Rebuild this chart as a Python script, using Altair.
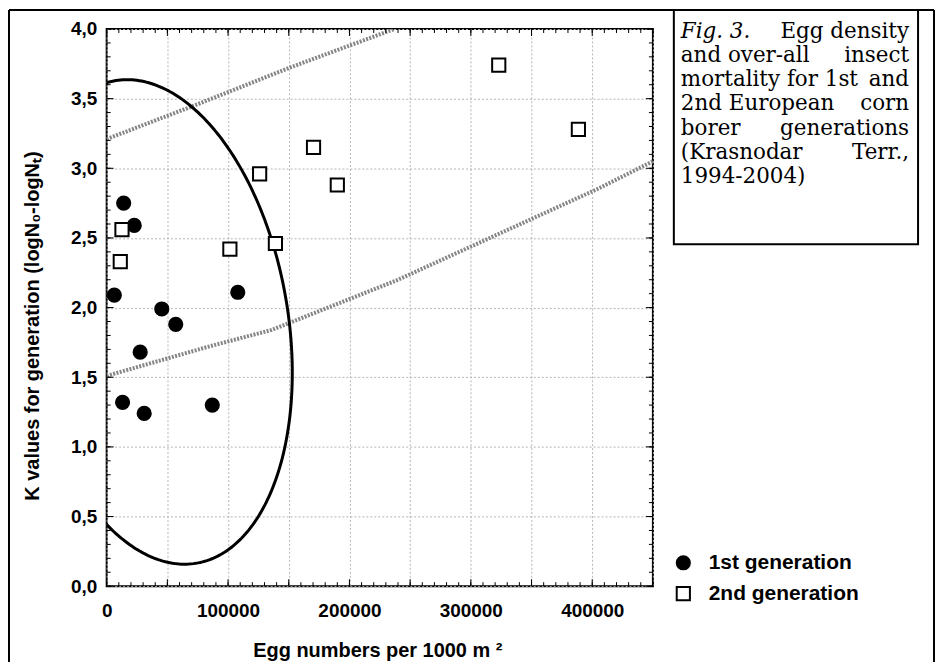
import altair as alt
import numpy as np
import pandas as pd

# ---------------- data ----------------
SERIES = ["1st generation", "2nd generation"]
GEN1_EGGS = [14000, 22700, 6300, 45400, 56900, 27600, 13100, 30900, 87000, 108000]
GEN1_K = [2.75, 2.59, 2.09, 1.99, 1.88, 1.68, 1.32, 1.24, 1.30, 2.11]
GEN2_EGGS = [12600, 11200, 101500, 126000, 139000, 170400, 190000, 323000, 388600]
GEN2_K = [2.56, 2.33, 2.42, 2.96, 2.46, 3.15, 2.88, 3.74, 3.28]

UPPER_X = [0, 75000, 150000, 237000]
UPPER_Y = [3.21, 3.46, 3.72, 4.0]
LOWER_X = [0, 84000, 136000, 240000, 404000, 450000]
LOWER_Y = [1.51, 1.72, 1.84, 2.20, 2.85, 3.05]

# ellipse drawn over the 1st generation cloud
ELL_CX, ELL_CY = 40500, 1.897
ELL_RX, ELL_RY = 112400, 1.739
ELL_TILT = 0.21

X_MAX, Y_MAX = 450000, 4.0
X_GRID = [0, 50000, 100000, 150000, 200000, 250000, 300000, 350000, 400000, 450000]
X_MINOR = list(range(0, 450001, 10000))
Y_GRID = [0.0, 0.5, 1.0, 1.5, 2.0, 2.5, 3.0, 3.5, 4.0]
Y_MINOR = [round(i / 10, 1) for i in range(41)]

X_TITLE = "Egg numbers per 1000 m \u00b2"
Y_TITLE = "K values for generation (logN\u2080-logN\u209c)"
CAPTION = [
    ("Fig. 3.", "Egg density"),
    ("and over-all", "insect"),
    ("mortality for 1st", "and"),
    ("2nd European", "corn"),
    ("borer", "generations"),
    ("(Krasnodar", "Terr.,"),
    ("1994-2004)", ""),
]

# ---------------- layout ----------------
W, H = 548, 559
PAD = {"left": 99, "top": 20, "right": 283, "bottom": 76}
FONT = "Liberation Sans"
SERIF = "DejaVu Serif"
CAP_SIZE = 21.5

XS = alt.Scale(domain=[0, X_MAX], nice=False, zero=False)
YS = alt.Scale(domain=[0, Y_MAX], nice=False, zero=False)
XAX = alt.Axis(values=X_GRID, grid=True, gridColor="#b5b5b5", gridDash=[2, 2], gridWidth=1,
               ticks=False, domain=False, title=None, labelFlush=False, labelOverlap=False,
               labelExpr="datum.value % 100000 == 0 ? format(datum.value, 'd') : ''",
               labelFont=FONT, labelFontWeight="bold", labelFontSize=19, labelColor="black",
               labelPadding=15)
YAX = alt.Axis(values=Y_GRID, grid=True, gridColor="#b5b5b5", gridDash=[2, 2], gridWidth=1,
               ticks=False, domain=False, title=None, labelFlush=False, labelOverlap=False,
               labelExpr="replace(format(datum.value, '.1f'), '.', ',')",
               labelFont=FONT, labelFontWeight="bold", labelFontSize=19, labelColor="black",
               labelPadding=10)


def X(f="eggs"):
    return alt.X(f"{f}:Q", scale=XS, axis=XAX)


def Y(f="k"):
    return alt.Y(f"{f}:Q", scale=YS, axis=YAX)


pts = pd.DataFrame({
    "eggs": GEN1_EGGS + GEN2_EGGS,
    "k": GEN1_K + GEN2_K,
    "gen": [SERIES[0]] * len(GEN1_EGGS) + [SERIES[1]] * len(GEN2_EGGS),
})
leg = alt.Legend(title=None, orient="none", legendX=568, legendY=525, padding=0,
                 labelFont=FONT, labelFontWeight="bold", labelFontSize=21, labelColor="black",
                 labelOffset=15, rowPadding=8, symbolSize=175, symbolStrokeWidth=2)
points = alt.Chart(pts).mark_point(filled=True, size=175, strokeWidth=2, opacity=1).encode(
    x=X(), y=Y(),
    fill=alt.Fill("gen:N", scale=alt.Scale(domain=SERIES, range=["black", "white"]), legend=leg),
    shape=alt.Shape("gen:N", scale=alt.Scale(domain=SERIES, range=["circle", "square"]), legend=leg),
    stroke=alt.Stroke("gen:N", scale=alt.Scale(domain=SERIES, range=["black", "black"]), legend=leg),
)

# ellipse
t = np.linspace(0, 2 * np.pi, 361)
phi = np.arccos(ELL_TILT)
ell = pd.DataFrame({"eggs": ELL_CX + ELL_RX * np.cos(t),
                    "k": ELL_CY - ELL_RY * np.cos(t + phi),
                    "i": np.arange(len(t))})
ellipse = alt.Chart(ell).mark_line(clip=True, color="black", strokeWidth=3).encode(
    x=X(), y=Y(), order="i:Q")

bands = pd.DataFrame({
    "eggs": UPPER_X + LOWER_X,
    "k": UPPER_Y + LOWER_Y,
    "band": ["upper"] * len(UPPER_X) + ["lower"] * len(LOWER_X),
})
band_lines = alt.Chart(bands).mark_line(clip=True, color="#858585", strokeWidth=4,
                                        strokeDash=[2, 1.4]).encode(
    x=X(), y=Y(), detail="band:N")


# inward ticks on all four sides
def xticks(vals, length):
    df = pd.DataFrame({"eggs": vals})
    b = alt.Chart(df).mark_rule(color="black", strokeWidth=1).encode(
        x=X(), y=alt.value(H), y2=alt.value(H - length))
    t_ = alt.Chart(df).mark_rule(color="black", strokeWidth=1).encode(
        x=X(), y=alt.value(0), y2=alt.value(length))
    return [b, t_]


def yticks(vals, length):
    df = pd.DataFrame({"k": vals})
    l = alt.Chart(df).mark_rule(color="black", strokeWidth=1).encode(
        y=Y(), x=alt.value(0), x2=alt.value(length))
    r = alt.Chart(df).mark_rule(color="black", strokeWidth=1).encode(
        y=Y(), x=alt.value(W), x2=alt.value(W - length))
    return [l, r]


ticks = xticks(X_MINOR, 4) + xticks(X_GRID, 7) + yticks(Y_MINOR, 4) + yticks(Y_GRID, 7)

one = pd.DataFrame({"a": [0]})


def text(s, x, y, **kw):
    return alt.Chart(pd.DataFrame({"t": [s]})).mark_text(**kw).encode(
        text="t:N", x=alt.value(x), y=alt.value(y))


titles = [
    text(X_TITLE, W / 2 - 2, H + 71, font=FONT, fontWeight="bold", fontSize=20,
         color="black", align="center", baseline="alphabetic"),
    text(Y_TITLE, -74, 298, font=FONT, fontWeight="bold", fontSize=20, angle=270,
         color="black", align="center", baseline="middle"),
]

cap = []
for i, (left, right) in enumerate(CAPTION):
    yb = 8.7 + 24.3 * i
    style = {"fontStyle": "italic"} if i == 0 else {}
    cap.append(text(left, 576, yb, font=SERIF, fontSize=CAP_SIZE, color="black",
                    align="left", baseline="alphabetic", **style))
    if right:
        cap.append(text(right, 805, yb, font=SERIF, fontSize=CAP_SIZE, color="black",
                        align="right", baseline="alphabetic"))

frame_bottom = H + PAD["bottom"]
frames = [
    alt.Chart(one).mark_rect(fillOpacity=0, stroke="black", strokeWidth=2).encode(
        x=alt.value(569), x2=alt.value(814), y=alt.value(-19), y2=alt.value(216)),
    alt.Chart(one).mark_rule(color="black", strokeWidth=2).encode(
        x=alt.value(-98), y=alt.value(-19), y2=alt.value(frame_bottom)),
    alt.Chart(one).mark_rule(color="black", strokeWidth=2).encode(
        x=alt.value(830), y=alt.value(-19), y2=alt.value(frame_bottom)),
    alt.Chart(one).mark_rule(color="black", strokeWidth=2).encode(
        x=alt.value(-98), x2=alt.value(830), y=alt.value(-19)),
]

chart = alt.layer(band_lines, ellipse, *ticks, points, *titles, *cap, *frames).properties(
    width=W, height=H, padding=PAD, autosize=alt.AutoSizeParams(type="none"),
    background="white",
).configure_view(stroke="black", strokeWidth=2)

chart.save("out.html", embed_options={"renderer": "svg", "actions": False})
